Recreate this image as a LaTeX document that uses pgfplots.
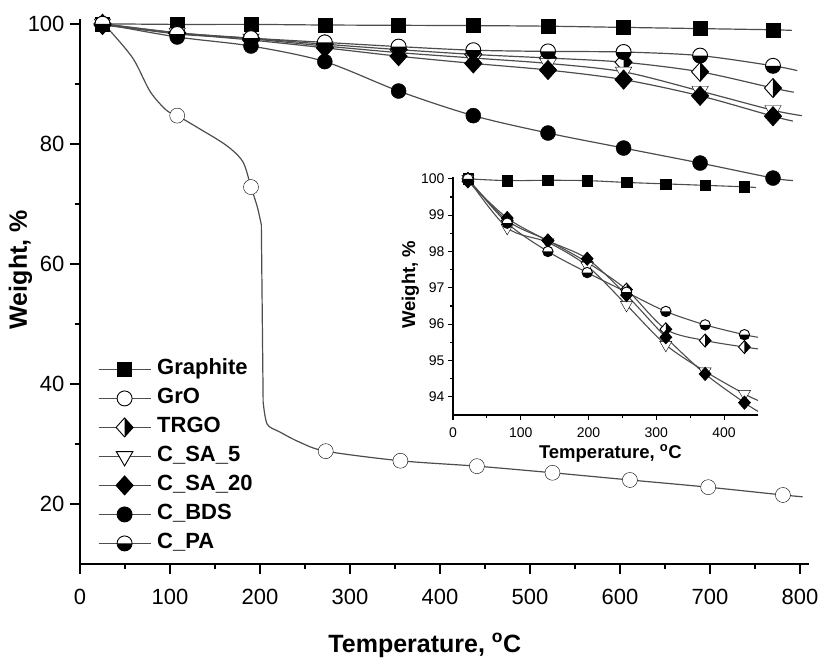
\documentclass[border=0pt]{standalone}
\usepackage{pgfplots}
\usepackage{pgfplotstable}
\pgfplotsset{compat=1.18}
\usepackage{fontspec}
\setmainfont{Liberation Sans}
\usetikzlibrary{plotmarks}

\definecolor{ln}{HTML}{4D4D4D}

% C_PA: upper half white, lower half black
\pgfdeclareplotmark{hcirc}{%
  \pgfpathcircle{\pgfpointorigin}{\pgfplotmarksize}%
  \pgfsetfillcolor{white}\pgfusepath{fill}%
  \pgfpathmoveto{\pgfqpoint{\pgfplotmarksize}{0pt}}%
  \pgfpatharc{0}{-180}{\pgfplotmarksize}%
  \pgfpathclose
  \pgfsetfillcolor{black}\pgfusepath{fill}%
  \pgfpathcircle{\pgfpointorigin}{\pgfplotmarksize}%
  \pgfusepath{stroke}%
}
% filled diamond
\pgfdeclareplotmark{fdiam}{%
  \pgfpathmoveto{\pgfqpoint{0pt}{\pgfplotmarksize}}%
  \pgfpathlineto{\pgfqpoint{.9\pgfplotmarksize}{0pt}}%
  \pgfpathlineto{\pgfqpoint{0pt}{-\pgfplotmarksize}}%
  \pgfpathlineto{\pgfqpoint{-.9\pgfplotmarksize}{0pt}}%
  \pgfpathclose
  \pgfsetfillcolor{black}\pgfusepath{fill,stroke}%
}
% TRGO: left half white, right half black
\pgfdeclareplotmark{hdiam}{%
  \pgfpathmoveto{\pgfqpoint{0pt}{\pgfplotmarksize}}%
  \pgfpathlineto{\pgfqpoint{.9\pgfplotmarksize}{0pt}}%
  \pgfpathlineto{\pgfqpoint{0pt}{-\pgfplotmarksize}}%
  \pgfpathlineto{\pgfqpoint{-.9\pgfplotmarksize}{0pt}}%
  \pgfpathclose
  \pgfsetfillcolor{white}\pgfusepath{fill}%
  \pgfpathmoveto{\pgfqpoint{0pt}{\pgfplotmarksize}}%
  \pgfpathlineto{\pgfqpoint{.9\pgfplotmarksize}{0pt}}%
  \pgfpathlineto{\pgfqpoint{0pt}{-\pgfplotmarksize}}%
  \pgfpathclose
  \pgfsetfillcolor{black}\pgfusepath{fill}%
  \pgfpathmoveto{\pgfqpoint{0pt}{\pgfplotmarksize}}%
  \pgfpathlineto{\pgfqpoint{.9\pgfplotmarksize}{0pt}}%
  \pgfpathlineto{\pgfqpoint{0pt}{-\pgfplotmarksize}}%
  \pgfpathlineto{\pgfqpoint{-.9\pgfplotmarksize}{0pt}}%
  \pgfpathclose
  \pgfusepath{stroke}%
}

% ---------- main data ----------
\pgfplotstableread{
x y
25 100
108 99.9
190 99.9
272 99.8
354 99.75
437 99.7
520 99.6
604 99.4
689 99.2
770 99.0
791 98.9
}\graphite
\pgfplotstableread{
x y
25 100
108 98.5
190 97.6
272 96.6
354 95.7
437 94.9
520 94.3
604 93.6
689 92.0
770 89.3
793 88.6
}\trgo
\pgfplotstableread{
x y
25 100
108 98.5
190 97.5
272 96.3
354 95.2
437 94.3
520 93.4
604 92.0
689 88.8
770 85.6
802 84.7
}\safive
\pgfplotstableread{
x y
25 99.8
108 98.4
190 97.3
272 96.0
354 94.6
437 93.4
520 92.3
604 90.7
689 88.0
770 84.6
792 83.8
}\satwenty
\pgfplotstableread{
x y
25 100
108 97.8
190 96.3
272 93.7
354 88.8
437 84.7
520 81.8
604 79.3
689 76.8
770 74.3
792 73.9
}\bds
\pgfplotstableread{
x y
25 100
108 98.3
190 97.6
272 96.9
354 96.2
437 95.6
520 95.4
604 95.3
689 94.7
770 93.0
797 92.2
}\cpa
\pgfplotstableread{
x y
25 100
108 84.7
190 72.8
273 28.8
356 27.2
441 26.3
525 25.2
611 24.0
698 22.8
781 21.5
}\gro

% ---------- inset data ----------
\pgfplotstableread{
x y
22 100
80 99.95
140 99.96
198 99.95
256 99.9
314 99.86
372 99.82
430 99.78
447 99.76
}\igraphite
\pgfplotstableread{
x y
22 100
80 98.85
140 98.3
198 97.7
256 96.95
314 95.86
372 95.55
430 95.37
450 95.32
}\itrgo
\pgfplotstableread{
x y
22 100
80 98.65
140 98.25
198 97.6
256 96.53
314 95.43
372 94.7
430 94.08
450 93.9
}\isafive
\pgfplotstableread{
x y
22 99.93
80 98.92
140 98.3
198 97.8
256 96.8
314 95.64
372 94.63
430 93.84
450 93.6
}\isatwenty
\pgfplotstableread{
x y
22 100
80 98.78
140 98.0
198 97.42
256 96.88
314 96.35
372 95.98
430 95.71
450 95.64
}\icpa

\pgfplotsset{
  ser/.style={ln, line width=1.2pt, smooth, no markers, forget plot},
  mk/.style={only marks, forget plot, mark options={solid, draw=black, line width=0.9pt}},
  mGraphite/.style={mark=square*, mark size=7pt, mark options={fill=black}},
  mGrO/.style={mark=*, mark size=7.5pt, mark options={fill=white}},
  mTRGO/.style={mark=hdiam, mark size=9.5pt},
  mSAfive/.style={mark=triangle*, mark size=9.5pt, mark options={fill=white, rotate=180}},
  mSAtwenty/.style={mark=fdiam, mark size=9.5pt},
  mBDS/.style={mark=*, mark size=7.5pt, mark options={fill=black}},
  mCPA/.style={mark=hcirc, mark size=7.5pt},
}

\begin{document}
\begin{tikzpicture}
\begin{axis}[
  at={(0pt,0pt)}, anchor=south west,
  scale only axis, width=729pt, height=545pt,
  xmin=0, xmax=810, ymin=10, ymax=100.8,
  axis x line*=bottom, axis y line*=left,
  axis line style={line width=1.6pt, black},
  tick align=outside, major tick length=10pt, minor tick length=5pt,
  tick style={line width=1.4pt, black},
  xtick={0,100,...,800}, ytick={20,40,...,100},
  minor x tick num=1, minor y tick num=1,
  /pgf/number format/assume math mode=true,
  tick label style={font=\fontsize{22}{26}\selectfont},
  xticklabel style={yshift=-12pt},
  yticklabel style={xshift=-2pt},
  xlabel={\textbf{Temperature, \textsuperscript{o}C}},
  label style={font=\fontsize{25}{29}\selectfont},
  x label style={at={(axis description cs:0.473,0)}, anchor=base, yshift=-88pt},
  legend style={draw=none, fill=none, at={(axis cs:20,44.5)}, anchor=north west,
    font=\fontsize{22}{26}\selectfont\bfseries, inner sep=0pt, outer sep=0pt,
    row sep=4pt, nodes={text height=16pt, text depth=5pt, inner sep=2pt},
    cells={anchor=west}},
  legend image code/.code={\draw[mark repeat=2,mark phase=2,#1] plot coordinates {(0pt,0pt) (26pt,0pt) (52pt,0pt)};},
  legend cell align=left,
  clip=false,
]
\addlegendimage{ln, line width=1.2pt, mGraphite, mark options={solid, draw=black, line width=0.9pt, fill=black}}
\addlegendentry{\hspace{4pt}Graphite}
\addlegendimage{ln, line width=1.2pt, mGrO, mark options={solid, draw=black, line width=0.9pt, fill=white}}
\addlegendentry{\hspace{4pt}GrO}
\addlegendimage{ln, line width=1.2pt, mTRGO, mark options={solid, draw=black, line width=0.9pt}}
\addlegendentry{\hspace{4pt}TRGO}
\addlegendimage{ln, line width=1.2pt, mSAfive, mark options={solid, draw=black, line width=0.9pt, fill=white, rotate=180}}
\addlegendentry{\hspace{4pt}C\_SA\_5}
\addlegendimage{ln, line width=1.2pt, mSAtwenty, mark options={solid, draw=black, line width=0.9pt}}
\addlegendentry{\hspace{4pt}C\_SA\_20}
\addlegendimage{ln, line width=1.2pt, mBDS, mark options={solid, draw=black, line width=0.9pt, fill=black}}
\addlegendentry{\hspace{4pt}C\_BDS}
\addlegendimage{ln, line width=1.2pt, mCPA, mark options={solid, draw=black, line width=0.9pt}}
\addlegendentry{\hspace{4pt}C\_PA}

\node[rotate=90, anchor=base, font=\fontsize{25}{29}\selectfont\bfseries]
  at ([xshift=-53pt]axis description cs:0,0.54) {Weight, \%};

% Graphite
\addplot[ser] table {\graphite};
\addplot[mk, mGraphite, skip coords between index={10}{11}] table {\graphite};
% GrO
\addplot[ser] coordinates {(25,100)(33,98.9)(59,94.2)(78,88.7)(96,85.6)(108,84.7)(133,82.5)(163,79.7)(181,77)(190,72.8)(197,69.5)(201.5,66.5)};
\addplot[ln, line width=1.2pt, forget plot] coordinates {(201.5,66.5)(203.5,37)};
\addplot[ser] coordinates {(203.5,37)(208,33.3)(222,32)(244,30.3)(273,28.8)(356,27.2)(441,26.3)(525,25.2)(611,24.0)(698,22.8)(781,21.5)(803,21.2)};
\addplot[mk, mGrO] table {\gro};
% TRGO
\addplot[ser] table {\trgo};
\addplot[mk, mTRGO, skip coords between index={10}{11}] table {\trgo};
% C_SA_5
\addplot[ser] table {\safive};
\addplot[mk, mSAfive, skip coords between index={10}{11}] table {\safive};
% C_SA_20
\addplot[ser] table {\satwenty};
\addplot[mk, mSAtwenty, skip coords between index={10}{11}] table {\satwenty};
% C_BDS
\addplot[ser] table {\bds};
\addplot[mk, mBDS, skip coords between index={10}{11}] table {\bds};
% C_PA
\addplot[ser] table {\cpa};
\addplot[mk, mCPA, skip coords between index={10}{11}] table {\cpa};
\end{axis}

% ---------- inset ----------
\begin{axis}[
  at={(373pt,149pt)}, anchor=south west,
  scale only axis, width=305pt, height=238pt,
  xmin=0, xmax=450, ymin=93.5, ymax=100.05,
  axis x line*=bottom, axis y line*=left,
  axis line style={line width=1.8pt, black},
  tick align=outside, major tick length=5pt, minor tick length=3pt,
  tick style={line width=1.2pt, black},
  xtick={0,100,...,400}, ytick={94,95,...,100},
  minor x tick num=1, minor y tick num=1,
  /pgf/number format/assume math mode=true,
  tick label style={font=\fontsize{14}{17}\selectfont},
  xticklabel style={yshift=-4pt},
  xlabel={\textbf{Temperature, \textsuperscript{o}C}},
  label style={font=\fontsize{18.5}{22}\selectfont},
  x label style={at={(axis description cs:0.516,0)}, anchor=base, yshift=-43pt},
  clip=false,
]
\node[rotate=90, anchor=base, font=\fontsize{18.5}{22}\selectfont\bfseries]
  at ([xshift=-38pt]axis description cs:0,0.548) {Weight, \%};
\addplot[ser, line width=1.1pt] table {\igraphite};
\addplot[mk, mGraphite, mark size=5.2pt, skip coords between index={8}{9}] table {\igraphite};
\addplot[ser, line width=1.1pt] table {\itrgo};
\addplot[mk, mTRGO, mark size=6.5pt, skip coords between index={8}{9}] table {\itrgo};
\addplot[ser, line width=1.1pt] table {\isafive};
\addplot[mk, mSAfive, mark size=7pt, skip coords between index={8}{9}] table {\isafive};
\addplot[ser, line width=1.1pt] table {\isatwenty};
\addplot[mk, mSAtwenty, mark size=6.5pt, skip coords between index={8}{9}] table {\isatwenty};
\addplot[ser, line width=1.1pt] table {\icpa};
\addplot[mk, mCPA, mark size=5.2pt, skip coords between index={8}{9}] table {\icpa};
\end{axis}

\pgfresetboundingbox
\path (-80pt,-93pt) rectangle (740pt,564pt);
\end{tikzpicture}
\end{document}
